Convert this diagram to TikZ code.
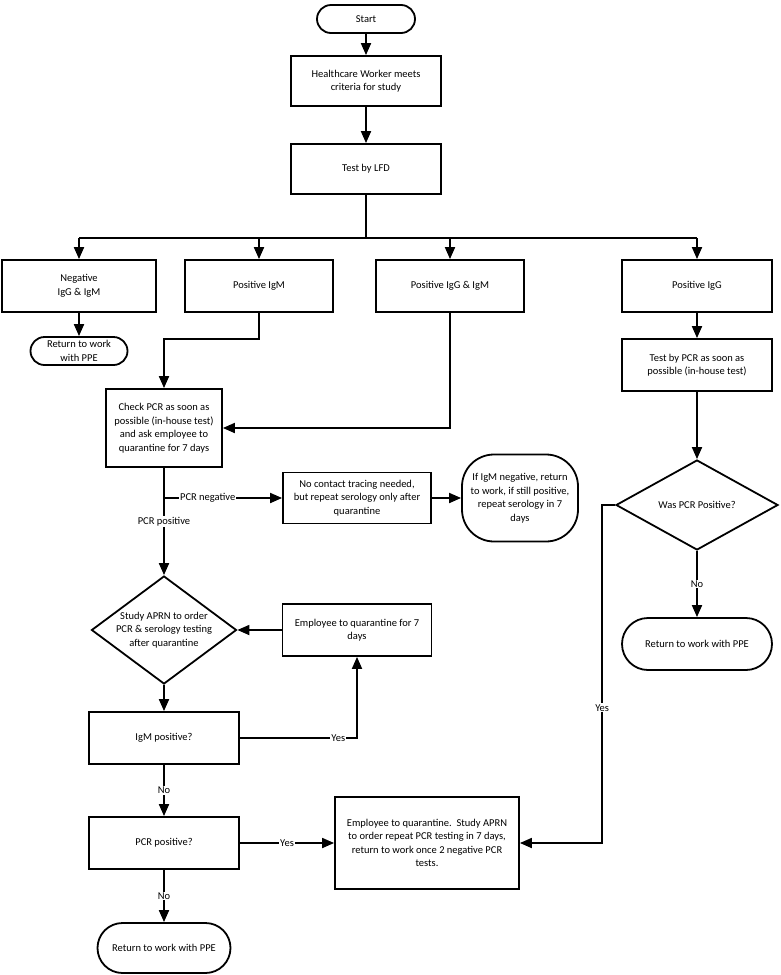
\documentclass[tikz,border=0pt]{standalone}
\usepackage{fontspec}
\setmainfont{Carlito}
\usetikzlibrary{arrows.meta,shapes.geometric}

\begin{document}
\begin{tikzpicture}[x=1pt,y=-1pt,>={Triangle[length=12pt,width=10pt]},line width=1.8pt,
  every node/.style={font=\fontsize{10.5}{13.5}\selectfont},
  box/.style={draw,rectangle,align=center,minimum width=150pt,minimum height=52pt,inner sep=2pt},
  term/.style={draw,rectangle,rounded corners=#1,align=center,inner sep=1pt},
  dec/.style={draw,diamond,align=center,inner sep=0pt},
  lbl/.style={fill=white,inner sep=1pt}]
\useasboundingbox (0,0) rectangle (780,975);
\node[term=14pt,minimum width=98pt,minimum height=28pt] (start) at (366,19) {Start};
\node[box,minimum height=50pt] (hcw) at (366,81) {Healthcare Worker meets\\criteria for study};
\node[box,minimum height=50pt] (lfd) at (366,169) {Test by LFD};
\coordinate (bus) at (366,238);
\node[box,minimum width=154pt] (neg) at (79,286) {Negative\\IgG \& IgM};
\node[box,minimum width=148pt] (posm) at (259,286) {Positive IgM};
\node[box,minimum width=148pt] (posgm) at (450,286) {Positive IgG \& IgM};
\node[box] (posg) at (697,286) {Positive IgG};
\node[term=14pt,minimum width=97pt,minimum height=28pt] (retneg) at (79,351) {Return to work\\with PPE};
\node[box,minimum width=116pt,minimum height=78pt] (chk) at (164,428) {Check PCR as soon as\\possible (in-house test)\\and ask employee to\\quarantine for 7 days};
\node[box,minimum width=148pt,minimum height=51pt] (nocon) at (357,498) {No contact tracing needed,\\but repeat serology only after\\quarantine};
\node[term=32pt,minimum width=116pt,minimum height=87pt] (ifigm) at (520,498) {If IgM negative, return\\to work, if still positive,\\repeat serology in 7\\days};
\node[box] (pcrt) at (697,365) {Test by PCR as soon as\\possible (in-house test)};
\node[dec,minimum width=162pt,minimum height=90pt] (was) at (697,505) {Was PCR Positive?};
\node[term=26pt,minimum width=150pt,minimum height=52pt] (retpos) at (697,644) {Return to work with PPE};
\node[dec,minimum width=145pt,minimum height=108pt,
  label={[align=center]center:Study APRN to order\\PCR \& serology testing\\after quarantine}] (study) at (164,630) {};
\node[box,minimum width=149pt] (emp) at (357,630) {Employee to quarantine for 7\\days};
\node[box] (igm) at (164,738) {IgM positive?};
\node[box] (pcrp) at (164,843) {PCR positive?};
\node[box,minimum width=184pt,minimum height=92pt] (big) at (427,843) {Employee to quarantine.\ \ Study APRN\\to order repeat PCR testing in 7 days,\\return to work once 2 negative PCR\\tests.};
\node[term=25pt,minimum width=133pt,minimum height=50pt] (retpcr) at (164,948) {Return to work with PPE};

\draw[->] (start) -- (hcw);
\draw[->] (hcw) -- (lfd);
\draw (lfd) -- (bus);
\draw (bus -| neg) -- (bus -| posg);
\foreach \n in {neg,posm,posgm,posg} {\draw[->] (bus -| \n) -- (\n);}
\draw[->] (neg) -- (retneg);
\draw[->] (posm.south) -- ++(0,26) -| (chk.north);
\draw[->] (posgm.south) |- (chk.east);
\draw[->] (posg) -- (pcrt);
\draw[->] (pcrt) -- (was);
\draw[->] (was) -- node[lbl]{No} (retpos);
\draw[->] (was.west) -- ++(-13,0) |- node[lbl,pos=0.3]{Yes} (big.east);
\draw[->] (chk.south |- nocon.west) -- node[lbl,pos=0.37]{PCR negative} (nocon.west);
\draw[->] (chk) -- node[lbl]{PCR positive} (study);
\draw[->] (nocon) -- (ifigm);
\draw[->] (emp) -- (study);
\draw[->] (study) -- (igm);
\draw[->] (igm.east) -| node[lbl,pos=0.42]{Yes} (emp.south);
\draw[->] (igm) -- node[lbl]{No} (pcrp);
\draw[->] (pcrp) -- node[lbl]{Yes} (big);
\draw[->] (pcrp) -- node[lbl]{No} (retpcr);
\end{tikzpicture}
\end{document}
